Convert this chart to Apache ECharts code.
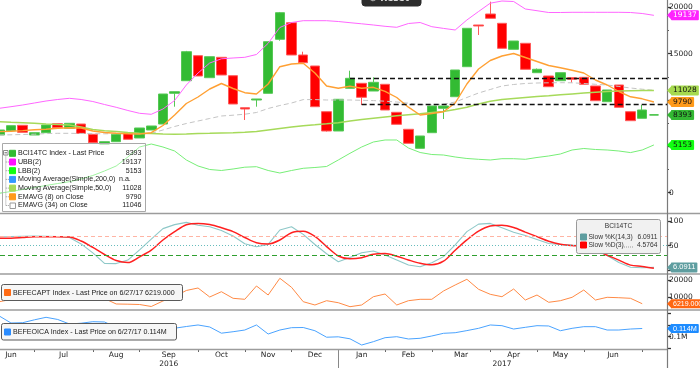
<!DOCTYPE html>
<html><head><meta charset="utf-8">
<script src="https://cdn.jsdelivr.net/npm/echarts@6/dist/echarts.min.js"></script>
<style>html,body{margin:0;padding:0;background:#fff}#c{width:700px;height:368px}</style>
</head><body><div id="c"></div>
<script>
// ---------- DATA (weekly, index 0..56) ----------
const opens  = [6226,6690,7272,6226,6474,7445,6948,7412,6301,5254,5503,6409,5902,6765,7412,10725,12084,14782,12408,14609,12624,9171,10002,10725,16552,18343,14858,13671,8740,6657,11264,11804,10973,11696,8675,6841,4790,6474,9106,10358,13595,18095,19281,18278,15473,16120,12948,12592,12084,12408,12451,11513,9819,11621,8740,8027,8393];
const closes = [6765,7229,6517,6474,7305,7013,7488,6409,5395,5503,6301,5762,6981,7197,10649,10898,15214,12592,14674,12700,9570,9031,10110,16293,19422,14858,14027,9279,6657,10078,12343,10293,11912,8923,7380,5330,6118,9355,9355,13239,17738,17987,18817,15580,16368,13315,13315,11437,12948,12236,11696,9927,11081,9214,7769,8923,8393];
const lows   = [6226,6690,6517,6226,6474,7013,6948,6409,5395,5254,5503,5762,5902,6765,7412,9279,12084,12592,12408,12700,9570,7844,9279,10725,16400,14858,14027,9279,6600,6657,11264,9462,10973,8923,7380,5330,4790,6474,7952,10358,13595,17016,18817,15580,15473,13315,12948,11437,12084,11869,11696,9927,9819,9214,7769,8027,8393];
const highs  = [6765,7229,7272,6474,7305,7445,7488,7412,6301,5503,6301,6409,6981,7197,10649,10898,15300,14782,14674,14609,12624,9171,10110,16293,19500,18343,15214,13671,8740,10078,13163,11804,12451,11696,8675,6841,6118,9355,9355,13239,17738,18095,20609,18278,16368,16120,13400,12592,12948,12408,12451,11513,11081,11621,8740,9462,8393];
const ubb  = [9106,9279,9462,9678,9894,10056,10185,10056,9840,9516,9214,8869,8567,8459,9031,9948,11620,12915,13994,14447,14534,14609,14912,16120,17825,18364,18559,18559,18559,18472,18343,18224,18095,17954,17846,18256,18364,17911,17728,17555,18634,19550,20447,20684,20630,19821,19637,19443,19443,19465,19465,19465,19465,19465,19443,19335,19137];
const lbb  = [-60,129,345,561,777,992,1187,1478,1856,2341,2881,3852,4931,5254,4931,4500,3528,2881,2503,2395,2557,2751,2805,2395,2125,2395,2633,2719,2827,3528,4251,4931,5470,5686,5686,4823,4337,4121,4067,3852,3690,3603,3528,3668,3668,3603,3798,3960,4176,4607,4769,4661,4607,4499,4327,4607,5153];
const ma50 = [7660,7596,7542,7488,7412,7348,7305,7089,6819,6690,6603,6495,6409,6387,6333,6312,6333,6387,6409,6441,6463,6517,6603,6765,6927,7089,7229,7326,7434,7553,7736,7898,8038,8168,8297,8405,8513,8653,8761,8977,9225,9570,9872,10045,10164,10272,10380,10466,10563,10660,10757,10844,10919,10973,11005,11027,11028];
const ema8 = [6582,6636,6701,6787,6852,6949,7003,6981,6657,6495,6409,6366,6333,6474,7250,8383,9624,10326,11189,11782,11243,10790,10649,11728,13595,13886,13962,12915,11513,11264,11491,11264,11372,10941,10272,9225,8383,8545,8729,9678,11728,13347,14264,14750,15019,14588,14156,13725,13487,13217,12915,12160,11620,10919,10347,10131,9790];
const ema34= [6226,6247,6280,6312,6377,6409,6409,6387,6366,6355,6377,6387,6355,6409,6765,7143,7466,7736,8006,8276,8362,8470,8653,9085,9408,9678,10045,10045,10002,10002,10002,9970,9937,9873,9786,9657,9495,9484,9549,9786,10272,10757,11135,11513,11675,11783,11836,11858,11869,11858,11783,11696,11621,11459,11297,11168,11046];
const slowK = [68.2,68.6,69.2,69.6,69.2,68.6,66.6,53.6,35.6,14.2,13.8,20.9,41.7,63.4,84.6,92.7,97.2,91.5,88.3,80.8,69.6,54.0,47.8,52.6,81.8,88.5,72.9,52.4,33.6,17.6,26.0,35.8,39.3,31.2,21.1,10.9,7.5,15.6,27.9,51.8,78.5,93.7,95.1,86.2,77.3,70.6,62.6,54.5,52.4,51.4,51.0,41.3,30.0,15.8,6.3,5.5,6.0911];
const slowD = [65.0,65.0,66.6,68.2,68.2,68.2,67.8,59.5,46.6,32.2,20.0,15.8,27.3,40.9,61.5,78.3,92.3,95.1,92.7,86.4,78.5,66.6,55.9,53.4,61.5,76.3,79.1,68.8,48.2,29.1,23.5,25.7,32.6,34.0,28.7,21.1,14.4,11.3,18.6,40.9,61.7,79.4,89.9,91.3,86.8,77.5,68.4,59.1,53.0,50.4,47.8,40.7,30.8,20.9,10.7,8.1,4.5764];
const befecapt = [7410,8710,10000,9000,8410,8650,8710,8120,8410,9290,6060,5940,5760,4590,7820,10470,14000,15470,10180,13290,9410,8820,16650,11350,21180,15880,7410,5470,8000,6820,4470,5470,10350,11940,5470,8000,8820,8820,13710,17240,20590,14710,11760,10350,14880,8410,11350,7060,8000,10000,14290,8410,10000,9760,9410,6219,null];
const befeoica = [135300,123400,123900,128800,133100,129400,121700,123000,125600,125100,116000,117200,118600,119600,115200,114500,117400,120000,116600,106000,108500,111400,120000,104600,111400,115400,115700,110200,99100,99800,96400,85800,91500,98300,100000,96100,97300,101200,105800,106800,110400,114300,120000,118800,113100,116000,118800,118300,110200,114300,117100,117100,111400,111400,113100,114000,null];

const monthNames   = ['Jun','Jul','Aug','Sep','Oct','Nov','Dec','Jan','Feb','Mar','Apr','May','Jun'];
const monthLabelAt = [1,5.5,10,14.5,19,23,27,31,35,39.5,44,48,52.5];
const monthTickAt  = [3,8,12,17,21,25,29,33,37,42,46,50,55];
const yearNames    = ['2016','2017'];
const yearLabelAt  = [14.5,43];
const yearBreakAt  = [29];

const mainTicks  = [0,5000,10000,15000,20000];
const mainLabels = [0,15000,20000];
const mainMinor  = [2500,7500,12500,17500];
const stochTicks = [0,50,100];
const stochLabels= [50,100];
const stochLevels= [70,50,30];
const captTicks  = [10000,20000];
const oicaTicks  = [80000,100000,120000,140000];
const oicaLabels = [100000];
const trendLevels= [12340,9540];
const trendStart = [30,31];

// ---------- CHART ----------
const chart = echarts.init(document.getElementById('c'), null, {renderer:'canvas', width:700, height:368});
const X_MIN = 0.06, X_MAX = 57.12;
const pts = a => a.map((v,i)=>[i,v]);
const last = a => { for (let i=a.length-1;i>=0;i--) if (a[i]!=null) return a[i]; };
const AX_FONT = 'DejaVu Sans';
const NARROW = 'Liberation Sans';
function tagLine(value, bg, fg, text, font, size){
  return {yAxis:value, lineStyle:{color:'rgba(0,0,0,0)', width:1},
    label:{show:true, position:'end', distance:4, formatter:text, backgroundColor:bg, color:fg,
      padding:[1.5,2,0.5,2], fontSize:size||7.5, fontFamily:font||AX_FONT, borderRadius:1}};
}
function tagArrow(value, bg){
  return {coord:[X_MAX, value], symbol:'triangle', symbolRotate:90, symbolSize:[10,5], symbolOffset:[2.5,0],
    itemStyle:{color:bg}, label:{show:false}};
}
function tags(value, bg, fg, text, font, size){
  return {
    markLine:{silent:true, symbol:['none','none'], data:[tagLine(value,bg,fg,text,font,size)]},
    markPoint:{silent:true, data:[tagArrow(value,bg)]}
  };
}
function xAx(g){ return {type:'value', gridIndex:g, min:X_MIN, max:X_MAX, show:false}; }
function yAx(g, min, max, ticks, labels, fmt){
  return {type:'value', gridIndex:g, position:'right', min:min, max:max,
    splitLine:{show:false}, axisLine:{show:false},
    axisTick:{show:true, customValues:ticks, length:4, lineStyle:{color:'#333', width:1.3}},
    axisLabel:{show:true, customValues:labels, margin:2, fontSize:7.5, fontFamily:AX_FONT, color:'#222', formatter:fmt}};
}

const candleTag = tags(last(closes), '#33b833', '#111', String(last(closes)));
const series = [
  {type:'candlestick', name:'BCI14TC', xAxisIndex:0, yAxisIndex:0, barWidth:10,
    encode:{x:0, y:[1,2,3,4]},
    data: opens.map((o,i)=>[i,o,closes[i],lows[i],highs[i]]),
    itemStyle:{color:'#33bb33', color0:'#ff0000', borderColor:'#55c855', borderColor0:'#ff5a5a', borderColorDoji:'#33bb33', borderWidth:1},
    z:2,
    markLine:{silent:true, symbol:['none','none'], animation:false,
      lineStyle:{color:'#111', type:[5,3], width:1.3}, label:{show:false},
      data:[
        [{coord:[trendStart[0], trendLevels[0]]},{coord:[X_MAX, trendLevels[0]]}],
        [{coord:[trendStart[1], trendLevels[1]]},{coord:[X_MAX, trendLevels[1]]}],
        candleTag.markLine.data[0]
      ]},
    markPoint: candleTag.markPoint},
  Object.assign({type:'line', name:'UBB(2)', xAxisIndex:0, yAxisIndex:0, data:pts(ubb), symbol:'none', z:3,
    lineStyle:{color:'#ff66ff', width:1}}, tags(last(ubb), '#ff22ff', '#fff', String(last(ubb)))),
  Object.assign({type:'line', name:'LBB(2)', xAxisIndex:0, yAxisIndex:0, data:pts(lbb), symbol:'none', z:3,
    lineStyle:{color:'#77ee77', width:1}}, tags(last(lbb), '#11ff11', '#111', String(last(lbb)))),
  {type:'line', name:'EMAVG (34)', xAxisIndex:0, yAxisIndex:0, data:pts(ema34), symbol:'none', z:3,
    lineStyle:{color:'#c4c4c4', width:1, type:[5,3]}},
  Object.assign({type:'line', name:'MA50', xAxisIndex:0, yAxisIndex:0, data:pts(ma50), symbol:'none', z:3,
    lineStyle:{color:'#a6da5a', width:1.5}}, tags(last(ma50), '#a6da4e', '#111', String(last(ma50)))),
  Object.assign({type:'line', name:'EMAVG (8)', xAxisIndex:0, yAxisIndex:0, data:pts(ema8), symbol:'none', z:3,
    lineStyle:{color:'#ffa033', width:1.4}}, tags(last(ema8), '#ff9a1a', '#111', String(last(ema8)))),
  Object.assign({type:'line', name:'Slow %K', xAxisIndex:1, yAxisIndex:2, data:pts(slowK), symbol:'none', z:3,
    lineStyle:{color:'#8ec8c8', width:1.1}}, tags(last(slowK), '#5f9ea0', '#fff', last(slowK).toFixed(4), NARROW, 7.5)),
  {type:'line', name:'Slow %D', xAxisIndex:1, yAxisIndex:2, data:pts(slowD), symbol:'none', z:4, smooth:0.3,
    lineStyle:{color:'#ff2020', width:1.5},
    markLine:{silent:true, symbol:['none','none'], label:{show:false}, data:[
      {yAxis:stochLevels[0], lineStyle:{color:'#ffb4a4', type:[4,3], width:1}},
      {yAxis:stochLevels[1], lineStyle:{color:'#66bcbc', type:[1,2], width:1}},
      {yAxis:stochLevels[2], lineStyle:{color:'#2f9f2f', type:[5,3], width:1}}
    ]}},
  Object.assign({type:'line', name:'BEFECAPT', xAxisIndex:2, yAxisIndex:3, data:pts(befecapt), symbol:'none', z:3,
    lineStyle:{color:'#ff8a45', width:1}}, tags(last(befecapt), '#ff6611', '#fff', last(befecapt).toFixed(3), NARROW, 7)),
  Object.assign({type:'line', name:'BEFEOICA', xAxisIndex:3, yAxisIndex:4, data:pts(befeoica), symbol:'none', z:3,
    lineStyle:{color:'#4aa3ff', width:1}}, tags(last(befeoica), '#1e8cff', '#fff', (last(befeoica)/1e6).toFixed(3)+'M', NARROW, 7.3))
];

const option = {
  animation:false,
  backgroundColor:'#fff',
  grid:[
    {left:0, right:33, top:0, height:212},
    {left:0, right:33, top:215, height:58},
    {left:0, right:33, top:275, height:34},
    {left:0, right:33, top:311, height:38}
  ],
  xAxis:[
    xAx(0), xAx(1), xAx(2),
    {type:'value', gridIndex:3, min:X_MIN, max:X_MAX, position:'bottom',
      axisLine:{show:false}, splitLine:{show:false},
      axisTick:{show:true, customValues:monthTickAt, length:3, lineStyle:{color:'#666'}},
      axisLabel:{show:true, customValues:monthLabelAt, margin:2, fontSize:7.5, fontFamily:AX_FONT, color:'#222',
        formatter:v=>monthNames[monthLabelAt.indexOf(v)]}},
    {type:'value', gridIndex:3, min:X_MIN, max:X_MAX, position:'bottom',
      axisLine:{show:false}, splitLine:{show:false},
      axisTick:{show:true, customValues:yearBreakAt, length:19, lineStyle:{color:'#888'}},
      axisLabel:{show:true, customValues:yearLabelAt, margin:11, fontSize:7.5, fontFamily:AX_FONT, color:'#222',
        formatter:v=>yearNames[yearLabelAt.indexOf(v)]}}
  ],
  yAxis:[
    yAx(0, -2083, 20792, mainTicks, mainLabels, v=>String(v)),
    {type:'value', gridIndex:0, position:'right', min:-2083, max:20792, splitLine:{show:false}, axisLine:{show:false},
      axisTick:{show:true, customValues:mainMinor, length:2, lineStyle:{color:'#555'}}, axisLabel:{show:false}},
    yAx(1, -5.26, 112.15, stochTicks, stochLabels, v=>String(v)),
    yAx(2, 3117, 23116, captTicks, captTicks, v=>String(v)),
    yAx(3, 79004, 143870, oicaTicks, oicaLabels, v=>(v/1e6).toFixed(1)+'M')
  ],
  series: series,
  graphic:[]
};

// ---------- annotations (legend boxes, separators, button) ----------
const G = [];
const LF = '7.1px "Liberation Sans", Arial, sans-serif';
const SF = '6.7px "Liberation Sans", Arial, sans-serif';
function txt(x,y,t,align,fill,font){ return {type:'text', x:x, y:y, z:20, style:{text:t, fill:fill||'#1a1a1a', font:font||LF, textAlign:align||'left', textVerticalAlign:'middle', align:align||'left', verticalAlign:'middle'}}; }
function rect(x,y,w,h,fill,stroke,r,z){ return {type:'rect', z:z||15, shape:{x:x,y:y,width:w,height:h,r:r||0}, style:{fill:fill, stroke:stroke, lineWidth:1}}; }
function line(x1,y1,x2,y2,stroke,w,dash,z){ return {type:'line', z:z||15, shape:{x1:x1,y1:y1,x2:x2,y2:y2}, style:{stroke:stroke, lineWidth:w||1, lineDash:dash||null}}; }

G.push(line(0,213.5,700,213.5,'#9c9c9c',1.6,null,1));
G.push(line(0,274,700,274,'#9c9c9c',1.6,null,1));
G.push(line(0,310,700,310,'#9c9c9c',1.6,null,1));
G.push(line(0,349.5,667,349.5,'#9c9c9c',1.6,null,1));
G.push(line(667.5,0,667.5,368,'#7a7a7a',1.2,null,1));

G.push(rect(362,-10,59,16,'#2d2d2d','#2d2d2d',3,30));
G.push(txt(369,-1.5,'\u2699 Reset','left','#dcdcdc','bold 9px "DejaVu Sans"'));
G[G.length-1].z = 31;

const legNames = ['BCI14TC Index - Last Price','UBB(2)','LBB(2)','Moving Average(Simple,200,0)','Moving Average(Simple,50,0)','EMAVG (8) on Close','EMAVG (34) on Close'];
const legColors = ['#33bb33','#ff11ff','#11ff11','#3399ff','#a6da5a','#ff9a1a',null];
const legValues = [String(last(closes)), String(last(ubb)), String(last(lbb)), 'n.a.', String(last(ma50)), String(last(ema8)), String(last(ema34))];
G.push(rect(2.5,143.5,143,68,'rgba(255,255,255,0.3)','#a9a9a9',0,14));
G.push(rect(3.5,150.5,4.5,4.5,'#fff','#8a8a8a',0,16));
G.push(line(4.5,152.8,7,152.8,'#666',1,null,17));
G.push(line(5.8,155.5,5.8,205.7,'#9a9a9a',1,[1,1],16));
for (let k=0;k<legNames.length;k++){
  const y = 153.3 + k*8.7;
  if (k>0) G.push(line(5.8,y,9,y,'#9a9a9a',1,[1,1],16));
  if (legColors[k]) G.push(rect(9.5,y-3,6,6,legColors[k],legColors[k],0,16));
  else G.push(rect(10,y-2.5,5.5,5.5,'#fff','#9a9a9a',0,16));
  G.push(txt(18,y,legNames[k]));
  if (legValues[k]==='n.a.') G.push(txt(119,y,legValues[k]));
  else G.push(txt(141.5,y,legValues[k],'right'));
}

G.push(rect(576.5,219.5,84,34,'#f1f1f1','#9a9a9a',2,14));
G.push(txt(618.5,226.5,'BCI14TC','center','#333',SF));
G.push(rect(580.5,234,6,6,'#5f9ea0','#5f9ea0',0,16));
G.push(txt(588.5,237,'Slow %K(14,3)','left','#333',SF));
G.push(txt(657.5,237,last(slowK).toFixed(4),'right','#333',SF));
G.push(rect(580.5,242,6,6,'#ff0000','#ff0000',0,16));
G.push(txt(588.5,245,'Slow %D(3)','left','#333',SF));
G.push(line(622,247,634,247,'#999',1,[1,1],16));
G.push(txt(657.5,245,last(slowD).toFixed(4),'right','#333',SF));

G.push(rect(1.5,284.5,181,16,'#f6f6f6','#5a5a5a',2,14));
G.push(rect(4.5,289.5,6,6,'#ff6a13','#ff6a13',0,16));
G.push(txt(13,292.8,'BEFECAPT Index - Last Price on 6/27/17 '+last(befecapt).toFixed(3),'left','#222'));

G.push(rect(1.5,323.5,175,16.5,'#f6f6f6','#5a5a5a',2,14));
G.push(rect(4.5,329,6,6,'#2a8cff','#2a8cff',0,16));
G.push(txt(13,332,'BEFEOICA Index - Last Price on 6/27/17 '+(last(befeoica)/1e6).toFixed(3)+'M','left','#222'));

option.graphic = G;
chart.setOption(option);
</script>
</body></html>
